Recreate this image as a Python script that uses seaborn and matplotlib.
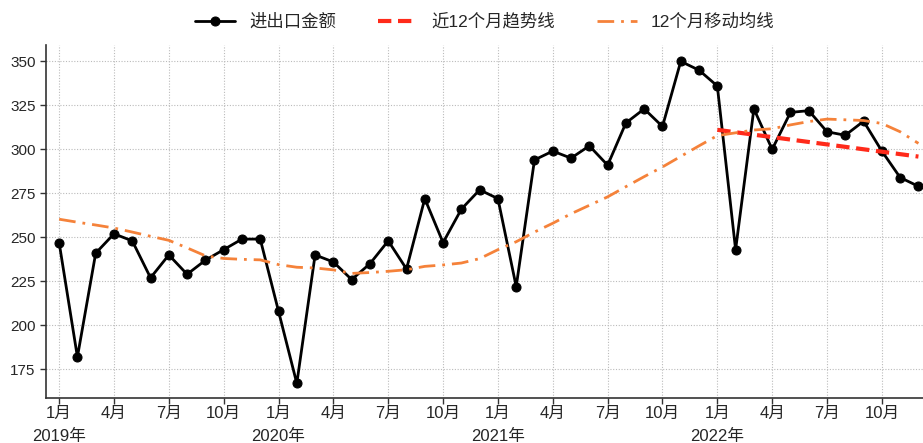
import numpy as np
import pandas as pd
import matplotlib
matplotlib.use("Agg")
import matplotlib.pyplot as plt
import seaborn as sns

# monthly data, Jan 2019 - Dec 2022
months = list(range(48))
trade_value = [247, 182, 241, 252, 248, 227, 240, 229, 237, 243, 249, 249,
               208, 167, 240, 236, 226, 235, 248, 232, 272, 247, 266, 277,
               272, 222, 294, 299, 295, 302, 291, 315, 323, 313, 350, 345,
               336, 243, 323, 300, 321, 322, 310, 308, 316, 299, 284, 279]
moving_avg = [260.3, 258.6, 257.0, 255.3, 253.0, 250.6, 248.3, 244.0, 239.5, 238.0, 237.5, 237.2,
              234.5, 233.0, 232.6, 231.5, 229.5, 230.0, 230.7, 231.6, 233.5, 234.3, 235.4, 237.9,
              243.0, 247.5, 253.0, 258.0, 263.4, 268.2, 273.0, 278.8, 284.5, 290.0, 296.0, 302.0,
              307.8, 309.4, 311.0, 311.7, 313.9, 315.8, 317.2, 316.8, 316.4, 314.7, 310.0, 303.4]
trend_months = [36, 47]
trend_value = [311.1, 295.9]

tick_pos = list(range(0, 48, 3))
tick_labels = ["1月\n2019年", "4月", "7月", "10月",
               "1月\n2020年", "4月", "7月", "10月",
               "1月\n2021年", "4月", "7月", "10月",
               "1月\n2022年", "4月", "7月", "10月"]

df = pd.DataFrame({"month": months, "value": trade_value, "ma": moving_avg})
df_trend = pd.DataFrame({"month": trend_months, "value": trend_value})

sns.set_style("ticks")
plt.rcParams["font.family"] = ["Liberation Sans", "Noto Sans CJK SC", "DejaVu Sans"]
plt.rcParams["axes.unicode_minus"] = False

fig = plt.figure(figsize=(9.23, 4.43), dpi=100)
ax = fig.add_axes([0.05, 0.102, 0.9502, 0.796])

sns.lineplot(data=df, x="month", y="value", ax=ax, color="black", lw=2,
             marker="o", markersize=6.5, markeredgecolor="black", label="进出口金额")
sns.lineplot(data=df_trend, x="month", y="value", ax=ax, color="#ff2a1a", lw=3,
             linestyle=(0, (3.2, 1.6)), label="近12个月趋势线")
sns.lineplot(data=df, x="month", y="ma", ax=ax, color="#f5823a", lw=2,
             linestyle=(0, (6, 2.5, 1, 2.5)), label="12个月移动均线")

ax.set_xlim(-0.71, 47.26)
ax.set_ylim(158.8, 359.2)
ax.set_yticks(np.arange(175, 351, 25))
ax.set_xticks(tick_pos)
ax.set_xticklabels(tick_labels, fontsize=12, linespacing=1.65)
ax.tick_params(axis="y", labelsize=11, length=4, width=1, color="#333333")
ax.tick_params(axis="x", length=4, width=1, color="#333333", pad=2)
ax.set_xlabel("")
ax.set_ylabel("")
ax.grid(True, linestyle=(0, (1, 1.5)), color="#bbbbbb", lw=0.8)
for s in ["top", "right"]:
    ax.spines[s].set_visible(False)
for s in ["left", "bottom"]:
    ax.spines[s].set_color("#333333")
    ax.spines[s].set_linewidth(1.2)

ax.legend(loc="upper center", bbox_to_anchor=(0.5, 1.135), ncol=3, frameon=False,
          fontsize=12.5, handlelength=2.3, columnspacing=2.4)

plt.savefig("out.png", dpi=100)
plt.close()
